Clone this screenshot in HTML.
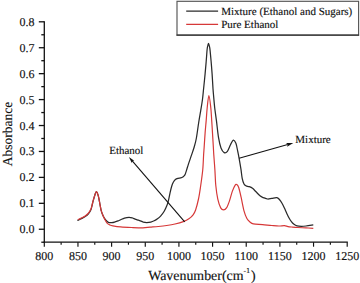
<!DOCTYPE html>
<html><head><meta charset="utf-8"><style>
html,body{margin:0;padding:0;background:#fff;}
body{width:360px;height:283px;overflow:hidden;}
svg{display:block;}
text{text-rendering:geometricPrecision;font-family:"Liberation Serif",serif;fill:#111;stroke:#111;stroke-width:0.15px;}
</style></head><body>
<svg width="360" height="283" viewBox="0 0 360 283">
<rect x="0" y="0" width="360" height="283" fill="#fff"/>
<g stroke="#111" stroke-width="1.3" fill="none" stroke-linecap="butt">
<line x1="44.30" y1="21.15" x2="44.30" y2="242.87"/>
<line x1="43.65" y1="242.22" x2="347.80" y2="242.22"/>
<line x1="41.30" y1="242.22" x2="44.30" y2="242.22"/><line x1="38.80" y1="229.25" x2="44.30" y2="229.25"/><line x1="41.30" y1="216.28" x2="44.30" y2="216.28"/><line x1="38.80" y1="203.32" x2="44.30" y2="203.32"/><line x1="41.30" y1="190.35" x2="44.30" y2="190.35"/><line x1="38.80" y1="177.39" x2="44.30" y2="177.39"/><line x1="41.30" y1="164.42" x2="44.30" y2="164.42"/><line x1="38.80" y1="151.46" x2="44.30" y2="151.46"/><line x1="41.30" y1="138.49" x2="44.30" y2="138.49"/><line x1="38.80" y1="125.53" x2="44.30" y2="125.53"/><line x1="41.30" y1="112.56" x2="44.30" y2="112.56"/><line x1="38.80" y1="99.59" x2="44.30" y2="99.59"/><line x1="41.30" y1="86.63" x2="44.30" y2="86.63"/><line x1="38.80" y1="73.66" x2="44.30" y2="73.66"/><line x1="41.30" y1="60.70" x2="44.30" y2="60.70"/><line x1="38.80" y1="47.73" x2="44.30" y2="47.73"/><line x1="41.30" y1="34.77" x2="44.30" y2="34.77"/><line x1="38.80" y1="21.80" x2="44.30" y2="21.80"/><line x1="44.30" y1="242.22" x2="44.30" y2="246.72" stroke-width="1.15"/><line x1="61.13" y1="242.22" x2="61.13" y2="244.72" stroke-width="1.15"/><line x1="77.96" y1="242.22" x2="77.96" y2="246.72" stroke-width="1.15"/><line x1="94.78" y1="242.22" x2="94.78" y2="244.72" stroke-width="1.15"/><line x1="111.61" y1="242.22" x2="111.61" y2="246.72" stroke-width="1.15"/><line x1="128.44" y1="242.22" x2="128.44" y2="244.72" stroke-width="1.15"/><line x1="145.27" y1="242.22" x2="145.27" y2="246.72" stroke-width="1.15"/><line x1="162.09" y1="242.22" x2="162.09" y2="244.72" stroke-width="1.15"/><line x1="178.92" y1="242.22" x2="178.92" y2="246.72" stroke-width="1.15"/><line x1="195.75" y1="242.22" x2="195.75" y2="244.72" stroke-width="1.15"/><line x1="212.58" y1="242.22" x2="212.58" y2="246.72" stroke-width="1.15"/><line x1="229.41" y1="242.22" x2="229.41" y2="244.72" stroke-width="1.15"/><line x1="246.23" y1="242.22" x2="246.23" y2="246.72" stroke-width="1.15"/><line x1="263.06" y1="242.22" x2="263.06" y2="244.72" stroke-width="1.15"/><line x1="279.89" y1="242.22" x2="279.89" y2="246.72" stroke-width="1.15"/><line x1="296.72" y1="242.22" x2="296.72" y2="244.72" stroke-width="1.15"/><line x1="313.54" y1="242.22" x2="313.54" y2="246.72" stroke-width="1.15"/><line x1="330.37" y1="242.22" x2="330.37" y2="244.72" stroke-width="1.15"/><line x1="347.20" y1="242.22" x2="347.20" y2="246.72" stroke-width="1.15"/>
</g>
<g font-size="12" style="stroke-width:0px">
<text x="34.5" y="233.25" text-anchor="end">0.0</text><text x="34.5" y="207.32" text-anchor="end">0.1</text><text x="34.5" y="181.39" text-anchor="end">0.2</text><text x="34.5" y="155.46" text-anchor="end">0.3</text><text x="34.5" y="129.53" text-anchor="end">0.4</text><text x="34.5" y="103.59" text-anchor="end">0.5</text><text x="34.5" y="77.66" text-anchor="end">0.6</text><text x="34.5" y="51.73" text-anchor="end">0.7</text><text x="34.5" y="25.80" text-anchor="end">0.8</text>
<text x="44.30" y="260.4" text-anchor="middle">800</text><text x="77.96" y="260.4" text-anchor="middle">850</text><text x="111.61" y="260.4" text-anchor="middle">900</text><text x="145.27" y="260.4" text-anchor="middle">950</text><text x="178.92" y="260.4" text-anchor="middle">1000</text><text x="212.58" y="260.4" text-anchor="middle">1050</text><text x="246.23" y="260.4" text-anchor="middle">1100</text><text x="279.89" y="260.4" text-anchor="middle">1150</text><text x="313.54" y="260.4" text-anchor="middle">1200</text><text x="347.20" y="260.4" text-anchor="middle">1250</text>
</g>
<path d="M77.40 220.50 C78.07 220.18 80.10 219.25 81.40 218.60 C82.70 217.95 84.03 217.40 85.20 216.60 C86.37 215.80 87.47 214.92 88.40 213.80 C89.33 212.68 90.18 211.32 90.80 209.90 C91.42 208.48 91.72 206.75 92.10 205.30 C92.48 203.85 92.65 202.88 93.10 201.20 C93.55 199.52 94.25 196.80 94.80 195.20 C95.35 193.60 95.82 191.48 96.40 191.60 C96.98 191.72 97.73 193.92 98.30 195.90 C98.87 197.88 99.32 201.05 99.80 203.50 C100.28 205.95 100.62 208.48 101.20 210.60 C101.78 212.72 102.48 214.55 103.30 216.20 C104.12 217.85 105.25 219.47 106.10 220.50 C106.95 221.53 107.42 222.05 108.40 222.40 C109.38 222.75 110.88 222.68 112.00 222.60 C113.12 222.52 114.10 222.18 115.10 221.90 C116.10 221.62 117.07 221.27 118.00 220.90 C118.93 220.53 119.62 220.17 120.70 219.70 C121.78 219.23 123.12 218.48 124.50 218.10 C125.88 217.72 127.67 217.42 129.00 217.40 C130.33 217.38 131.48 217.72 132.50 218.00 C133.52 218.28 134.10 218.73 135.10 219.10 C136.10 219.47 137.38 219.83 138.50 220.20 C139.62 220.57 141.00 220.98 141.80 221.30 C142.60 221.62 142.48 221.90 143.30 222.10 C144.12 222.30 145.45 222.50 146.70 222.50 C147.95 222.50 149.55 222.38 150.80 222.10 C152.05 221.82 153.08 221.36 154.20 220.80 C155.32 220.24 156.40 219.58 157.50 218.75 C158.60 217.92 159.68 217.05 160.80 215.80 C161.92 214.55 163.15 213.05 164.20 211.25 C165.25 209.45 166.42 206.68 167.10 205.00 C167.78 203.32 167.80 203.27 168.30 201.20 C168.80 199.13 169.53 195.10 170.10 192.60 C170.67 190.10 171.17 187.92 171.70 186.20 C172.23 184.48 172.68 183.42 173.30 182.30 C173.92 181.18 174.62 180.17 175.40 179.50 C176.18 178.83 177.12 178.57 178.00 178.30 C178.88 178.03 179.90 178.12 180.70 177.90 C181.50 177.68 182.10 177.50 182.80 177.00 C183.50 176.50 184.30 175.97 184.90 174.90 C185.50 173.83 185.80 172.43 186.40 170.60 C187.00 168.77 187.67 166.43 188.50 163.90 C189.33 161.37 190.45 158.22 191.40 155.40 C192.35 152.58 193.38 149.82 194.20 147.00 C195.02 144.18 195.55 142.58 196.30 138.50 C197.05 134.42 197.98 127.03 198.70 122.50 C199.42 117.97 199.98 115.05 200.60 111.30 C201.22 107.55 201.90 103.77 202.40 100.00 C202.90 96.23 203.15 93.05 203.60 88.70 C204.05 84.35 204.67 78.48 205.10 73.90 C205.53 69.32 205.85 65.38 206.20 61.20 C206.55 57.02 206.91 51.47 207.20 48.80 C207.49 46.13 207.73 46.12 207.95 45.20 C208.17 44.28 208.31 43.30 208.50 43.30 C208.69 43.30 208.87 44.28 209.10 45.20 C209.33 46.12 209.57 46.13 209.90 48.80 C210.23 51.47 210.73 57.02 211.10 61.20 C211.47 65.38 211.78 69.32 212.10 73.90 C212.42 78.48 212.73 84.85 213.00 88.70 C213.27 92.55 213.42 93.83 213.70 97.00 C213.98 100.17 214.25 103.80 214.70 107.70 C215.15 111.60 215.77 115.45 216.40 120.40 C217.03 125.35 217.73 132.80 218.50 137.40 C219.27 142.00 220.05 145.47 221.00 148.00 C221.95 150.53 223.13 152.05 224.20 152.60 C225.27 153.15 226.33 152.65 227.40 151.30 C228.47 149.95 229.62 146.37 230.60 144.50 C231.58 142.63 232.42 140.30 233.30 140.10 C234.18 139.90 235.17 141.45 235.90 143.30 C236.63 145.15 237.17 148.70 237.70 151.20 C238.23 153.70 238.57 155.35 239.10 158.30 C239.63 161.25 240.38 165.55 240.90 168.90 C241.42 172.25 241.68 175.88 242.20 178.40 C242.72 180.92 243.35 182.75 244.00 184.00 C244.65 185.25 245.27 185.47 246.10 185.90 C246.93 186.33 247.93 186.20 249.00 186.60 C250.07 187.00 251.33 187.43 252.50 188.30 C253.67 189.17 254.70 190.50 256.00 191.80 C257.30 193.10 259.07 195.13 260.30 196.10 C261.53 197.07 262.18 197.12 263.40 197.60 C264.62 198.08 266.20 198.87 267.60 199.00 C269.00 199.13 270.27 198.63 271.80 198.40 C273.33 198.17 275.50 197.38 276.80 197.60 C278.10 197.82 278.73 198.77 279.60 199.70 C280.47 200.63 281.20 201.82 282.00 203.20 C282.80 204.58 283.60 206.30 284.40 208.00 C285.20 209.70 286.00 211.70 286.80 213.40 C287.60 215.10 288.40 216.80 289.20 218.20 C290.00 219.60 290.80 220.80 291.60 221.80 C292.40 222.80 293.10 223.53 294.00 224.20 C294.90 224.87 295.80 225.45 297.00 225.80 C298.20 226.15 299.70 226.27 301.20 226.30 C302.70 226.33 303.98 226.23 306.00 226.00 C308.02 225.77 312.08 225.08 313.30 224.90" fill="none" stroke="#2a2a2a" stroke-width="1.25" stroke-linejoin="round"/>
<path d="M77.90 219.80 C78.48 219.50 80.18 218.63 81.40 218.00 C82.62 217.37 84.03 216.80 85.20 216.00 C86.37 215.20 87.47 214.32 88.40 213.20 C89.33 212.08 90.18 210.68 90.80 209.30 C91.42 207.92 91.73 206.25 92.10 204.90 C92.47 203.55 92.55 202.82 93.00 201.20 C93.45 199.58 94.23 196.80 94.80 195.20 C95.37 193.60 95.82 191.48 96.40 191.60 C96.98 191.72 97.73 193.92 98.30 195.90 C98.87 197.88 99.32 201.05 99.80 203.50 C100.28 205.95 100.62 208.48 101.20 210.60 C101.78 212.72 102.62 214.58 103.30 216.20 C103.98 217.82 104.63 219.10 105.30 220.30 C105.97 221.50 106.55 222.63 107.30 223.40 C108.05 224.17 108.87 224.50 109.80 224.90 C110.73 225.30 111.08 225.47 112.90 225.80 C114.72 226.13 117.55 226.62 120.70 226.90 C123.85 227.18 128.10 227.35 131.80 227.50 C135.50 227.65 139.87 227.85 142.90 227.80 C145.93 227.75 147.43 227.42 150.00 227.20 C152.57 226.98 155.52 226.78 158.30 226.50 C161.08 226.22 163.92 225.92 166.70 225.50 C169.48 225.08 172.23 224.65 175.00 224.00 C177.77 223.35 180.98 222.47 183.30 221.60 C185.62 220.73 187.27 219.93 188.90 218.80 C190.53 217.67 191.98 216.27 193.10 214.80 C194.22 213.33 194.70 212.63 195.60 210.00 C196.50 207.37 197.68 202.83 198.50 199.00 C199.32 195.17 199.80 191.78 200.50 187.00 C201.20 182.22 202.18 175.63 202.70 170.30 C203.22 164.97 203.37 158.72 203.60 155.00 C203.83 151.28 203.85 151.65 204.10 148.00 C204.35 144.35 204.75 137.70 205.10 133.10 C205.45 128.50 205.85 124.63 206.20 120.40 C206.55 116.17 206.75 111.85 207.20 107.70 C207.65 103.55 208.30 95.50 208.90 95.50 C209.50 95.50 210.33 103.55 210.80 107.70 C211.27 111.85 211.42 116.17 211.70 120.40 C211.98 124.63 212.22 128.50 212.50 133.10 C212.78 137.70 213.18 144.35 213.40 148.00 C213.62 151.65 213.55 151.33 213.80 155.00 C214.05 158.67 214.57 164.92 214.90 170.00 C215.23 175.08 215.32 180.65 215.80 185.50 C216.28 190.35 216.98 195.37 217.80 199.10 C218.62 202.83 219.73 206.12 220.70 207.90 C221.67 209.68 222.63 209.80 223.60 209.80 C224.57 209.80 225.53 209.35 226.50 207.90 C227.47 206.45 228.43 203.85 229.40 201.10 C230.37 198.35 231.33 194.07 232.30 191.40 C233.27 188.73 234.45 186.23 235.20 185.10 C235.95 183.97 236.22 184.20 236.80 184.60 C237.38 185.00 237.98 185.40 238.70 187.50 C239.42 189.60 240.22 193.32 241.10 197.20 C241.98 201.08 243.03 207.25 244.00 210.80 C244.97 214.35 245.90 216.63 246.90 218.50 C247.90 220.37 248.92 221.10 250.00 222.00 C251.08 222.90 251.30 223.47 253.40 223.90 C255.50 224.33 259.53 224.33 262.60 224.60 C265.67 224.87 269.08 225.27 271.80 225.50 C274.52 225.73 276.80 225.97 278.90 226.00 C281.00 226.03 282.88 225.60 284.40 225.70 C285.92 225.80 286.65 226.37 288.00 226.60 C289.35 226.83 290.90 226.95 292.50 227.10 C294.10 227.25 295.35 227.37 297.60 227.50 C299.85 227.63 303.38 227.77 306.00 227.90 C308.62 228.03 312.08 228.23 313.30 228.30" fill="none" stroke="#d63838" stroke-width="1.2" stroke-linejoin="round"/>
<!-- legend -->
<rect x="177.0" y="1.3" width="181.6" height="33.8" fill="#fff" stroke="#555" stroke-width="1.15"/>
<line x1="176.5" y1="35.1" x2="359.1" y2="35.1" stroke="#333" stroke-width="1.1"/>
<line x1="186.2" y1="11.1" x2="218.1" y2="11.1" stroke="#2a2a2a" stroke-width="1.2"/>
<line x1="186.2" y1="24.3" x2="218.1" y2="24.3" stroke="#d63838" stroke-width="1.2"/>
<g font-size="11">
<text x="221.2" y="14.6">Mixture (Ethanol and Sugars)</text>
<text x="221.2" y="28.0">Pure Ethanol</text>
</g>
<!-- annotations -->
<g font-size="11">
<text x="109.2" y="153.6">Ethanol</text>
<text x="295.3" y="142.5">Mixture</text>
</g>
<line x1="184.70" y1="221.80" x2="132.23" y2="160.96" stroke="#111" stroke-width="1.1"/><polygon points="128.90,157.10 134.23,160.83 132.23,160.96 131.80,162.92" fill="#111"/>
<line x1="239.10" y1="158.30" x2="287.72" y2="144.58" stroke="#111" stroke-width="1.1"/><polygon points="293.30,143.00 287.08,146.73 287.72,144.58 286.05,143.07" fill="#111"/>
<!-- axis titles -->
<text x="148.2" y="280.4" font-size="13.9">Wavenumber(cm<tspan font-size="7.5" dy="-7.5">-</tspan><tspan font-size="7.5" dx="0.3">1</tspan><tspan dy="7.5" dx="1.0">)</tspan></text>
<text transform="translate(11.7,133.9) rotate(-90)" text-anchor="middle" font-size="13.5">Absorbance</text>
</svg>
</body></html>
